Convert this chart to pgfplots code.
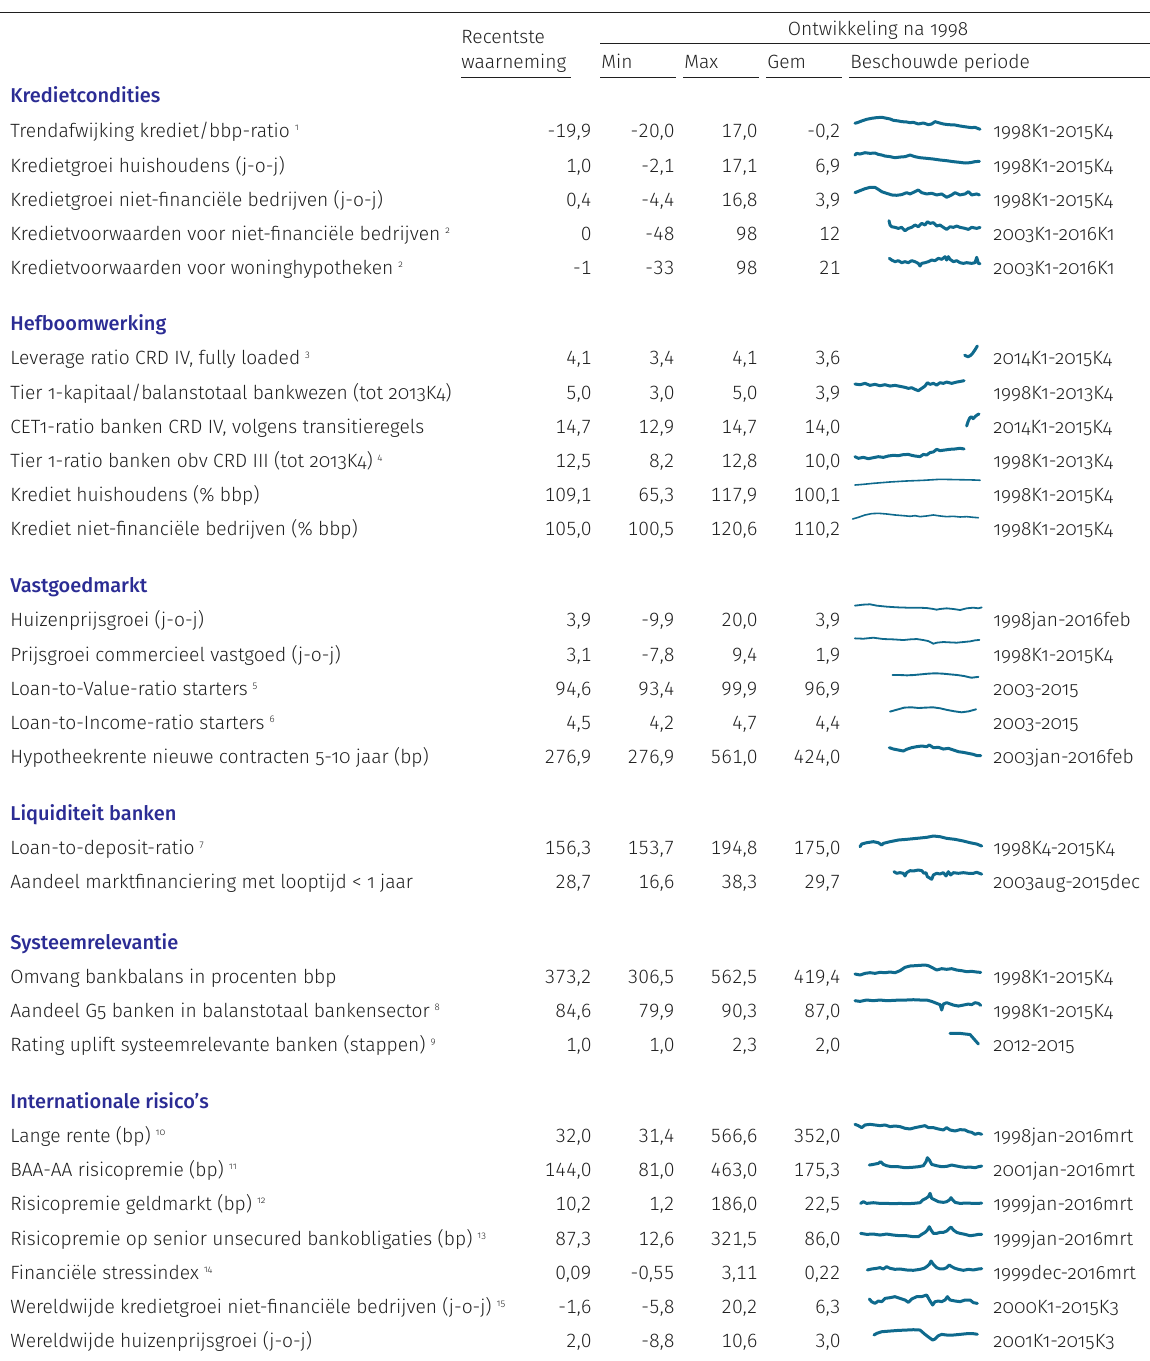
\documentclass[border=0pt]{standalone}
\usepackage{fontspec}
\setmainfont{Fira Sans Light}[Numbers=OldStyle, BoldFont={Fira Sans Medium}]
\newfontfamily\numfont{Fira Sans Light}[Numbers={Lining,Monospaced}]
\usepackage{pgfplots}
\pgfplotsset{compat=1.18}
\definecolor{txt}{HTML}{1F1F1F}
\definecolor{head}{HTML}{2B2C94}
\definecolor{spk}{HTML}{0F6A8D}
\pgfplotsset{spark/.style={hide axis, scale only axis, width=64.5pt, xmin=1998, xmax=2016.25, clip=false, anchor=south west}}
\newcommand{\spark}[6]{%
\coordinate (sp) at (853,#1);
\begin{axis}[spark, at={(sp)}, height=#2, ymin=#3, ymax=#4]
\addplot[spk, line width=#5, line join=round, line cap=round, mark=none] coordinates {#6};
\end{axis}}
\newcommand{\fn}[1]{\hspace{2.5pt}\raisebox{3.4pt}{\fontsize{4.8}{5}\selectfont #1}}
\newcommand{\row}[7]{%
\node[anchor=base west] at (10,#1) {#2};
\node[anchor=base east] at (592,#1) {\numfont #3};
\node[anchor=base east] at (675,#1) {\numfont #4};
\node[anchor=base east] at (758,#1) {\numfont #5};
\node[anchor=base east] at (841,#1) {\numfont #6};
\node[anchor=base west] at (993,#1) {#7};}
\newcommand{\sect}[2]{\node[anchor=base west, text=head, font=\fontsize{10}{12}\selectfont\bfseries] at (10,#1) {#2};}
\begin{document}
\begin{tikzpicture}[x=0.5pt,y=-0.5pt, every node/.style={inner sep=0pt, text=txt, font=\fontsize{9.6}{11.5}\selectfont}]
\useasboundingbox (0,0) rectangle (1150,1361);
% header
\draw[txt, line width=0.5pt] (0,12) -- (1150,12);
\draw[txt, line width=0.5pt] (600,43) -- (1150,43);
\node[anchor=base] at (878,35) {Ontwikkeling na 1998};
\node[anchor=base west] at (461,43) {Recentste};
\node[anchor=base west] at (461,68) {waarneming};
\node[anchor=base west] at (601,68) {Min};
\node[anchor=base west] at (684,68) {Max};
\node[anchor=base west] at (767,68) {Gem};
\node[anchor=base west] at (850,68) {Beschouwde periode};
\foreach \a/\b in {461/571,600/676,683/759,766/842,849/1150}{\draw[txt, line width=0.5pt] (\a,77) -- (\b,77);}
% sections
\sect{102}{Kredietcondities}
\row{137}{Trendafwijking krediet/bbp-ratio\fn{1}}{-19,9}{-20,0}{17,0}{-0,2}{1998K1-2015K4}
\row{172}{Kredietgroei huishoudens (j-o-j)}{1,0}{-2,1}{17,1}{6,9}{1998K1-2015K4}
\row{206}{Kredietgroei niet-financiële bedrijven (j-o-j)}{0,4}{-4,4}{16,8}{3,9}{1998K1-2015K4}
\row{240}{Kredietvoorwaarden voor niet-financiële bedrijven\fn{2}}{0}{-48}{98}{12}{2003K1-2016K1}
\row{274}{Kredietvoorwaarden voor woninghypotheken\fn{2}}{-1}{-33}{98}{21}{2003K1-2016K1}
\sect{330}{Hefboomwerking}
\row{364}{Leverage ratio CRD IV, fully loaded\fn{3}}{4,1}{3,4}{4,1}{3,6}{2014K1-2015K4}
\row{399}{Tier 1-kapitaal/balanstotaal bankwezen (tot 2013K4)}{5,0}{3,0}{5,0}{3,9}{1998K1-2013K4}
\row{433}{CET1-ratio banken CRD IV, volgens transitieregels}{14,7}{12,9}{14,7}{14,0}{2014K1-2015K4}
\row{467}{Tier 1-ratio banken obv CRD III (tot 2013K4)\fn{4}}{12,5}{8,2}{12,8}{10,0}{1998K1-2013K4}
\row{501}{Krediet huishoudens (\% bbp)}{109,1}{65,3}{117,9}{100,1}{1998K1-2015K4}
\row{535}{Krediet niet-financiële bedrijven (\% bbp)}{105,0}{100,5}{120,6}{110,2}{1998K1-2015K4}
\sect{592}{Vastgoedmarkt}
\row{626}{Huizenprijsgroei (j-o-j)}{3,9}{-9,9}{20,0}{3,9}{1998jan-2016feb}
\row{661}{Prijsgroei commercieel vastgoed (j-o-j)}{3,1}{-7,8}{9,4}{1,9}{1998K1-2015K4}
\row{695}{Loan-to-Value-ratio starters\fn{5}}{94,6}{93,4}{99,9}{96,9}{2003-2015}
\row{729}{Loan-to-Income-ratio starters\fn{6}}{4,5}{4,2}{4,7}{4,4}{2003-2015}
\row{763}{Hypotheekrente nieuwe contracten 5-10 jaar (bp)}{276,9}{276,9}{561,0}{424,0}{2003jan-2016feb}
\sect{820}{Liquiditeit banken}
\row{854}{Loan-to-deposit-ratio\fn{7}}{156,3}{153,7}{194,8}{175,0}{1998K4-2015K4}
\row{888}{Aandeel marktfinanciering met looptijd < 1 jaar}{28,7}{16,6}{38,3}{29,7}{2003aug-2015dec}
\sect{949}{Systeemrelevantie}
\row{983}{Omvang bankbalans in procenten bbp}{373,2}{306,5}{562,5}{419,4}{1998K1-2015K4}
\row{1017}{Aandeel G5 banken in balanstotaal bankensector\fn{8}}{84,6}{79,9}{90,3}{87,0}{1998K1-2015K4}
\row{1051}{Rating uplift systeemrelevante banken (stappen)\fn{9}}{1,0}{1,0}{2,3}{2,0}{2012-2015}
\sect{1108}{Internationale risico's}
\row{1142}{Lange rente (bp)\fn{10}}{32,0}{31,4}{566,6}{352,0}{1998jan-2016mrt}
\row{1176}{BAA-AA risicopremie (bp)\fn{11}}{144,0}{81,0}{463,0}{175,3}{2001jan-2016mrt}
\row{1210}{Risicopremie geldmarkt (bp)\fn{12}}{10,2}{1,2}{186,0}{22,5}{1999jan-2016mrt}
\row{1245}{Risicopremie op senior unsecured bankobligaties (bp)\fn{13}}{87,3}{12,6}{321,5}{86,0}{1999jan-2016mrt}
\row{1279}{Financiële stressindex\fn{14}}{0,09}{-0,55}{3,11}{0,22}{1999dec-2016mrt}
\row{1313}{Wereldwijde kredietgroei niet-financiële bedrijven (j-o-j)\fn{15}}{-1,6}{-5,8}{20,2}{6,3}{2000K1-2015K3}
\row{1347}{Wereldwijde huizenprijsgroei (j-o-j)}{2,0}{-8,8}{10,6}{3,0}{2001K1-2015K3}
% sparklines
\spark{129.3}{6pt}{-20}{17}{1.5pt}{(1998.28,-1.5) (1998.75,1.6) (1999.23,5.7) (1999.93,10.8) (2000.64,13.9) (2001.35,16.0) (2002.06,17.0) (2002.76,13.9) (2003.24,11.9) (2003.71,7.7) (2004.41,5.7) (2004.89,3.6) (2005.59,2.6) (2006.07,0.5) (2006.54,1.6) (2007.24,-3.6) (2007.95,-0.5) (2008.66,-5.7) (2009.13,-3.6) (2009.60,3.6) (2010.08,0.5) (2010.78,-3.6) (2011.49,-5.7) (2012.43,-6.7) (2013.14,-9.8) (2014.08,-12.9) (2014.79,-14.9) (2015.26,-13.9) (2015.50,-16.0) (2015.97,-19.9)}
\spark{163}{5.15pt}{-2.1}{17.1}{1.5pt}{(1998.28,12.8) (1998.52,15.9) (1998.99,14.6) (1999.70,17.1) (2000.41,15.9) (2001.11,16.5) (2001.58,14.0) (2002.06,12.8) (2002.53,10.9) (2003.24,9.7) (2003.94,7.8) (2004.65,9.0) (2005.36,9.7) (2006.07,12.8) (2006.77,9.7) (2007.48,7.8) (2008.42,6.6) (2009.37,5.3) (2010.31,3.5) (2011.25,2.2) (2012.20,0.4) (2013.14,-0.9) (2013.85,-2.1) (2014.56,-1.5) (2015.26,0.4) (2015.88,1.0)}
\spark{197.3}{5.3pt}{-4.4}{16.8}{1.5pt}{(1998.28,4.9) (1998.99,8.9) (1999.70,12.8) (2000.41,15.5) (2001.11,15.5) (2001.58,11.5) (2002.06,6.9) (2002.76,3.6) (2003.47,0.3) (2004.18,-0.4) (2004.89,1.0) (2005.59,4.9) (2006.07,2.3) (2006.77,6.9) (2007.24,10.2) (2007.72,4.9) (2008.42,2.3) (2009.13,3.6) (2009.84,0.3) (2010.55,2.3) (2011.25,-4.4) (2011.96,0.3) (2012.43,4.9) (2013.14,0.3) (2013.85,2.3) (2014.32,6.9) (2014.79,0.3) (2015.50,2.3) (2015.88,0.4)}
\spark{230.7}{5pt}{-48}{98}{1.5pt}{(2003.09,98) (2003.24,35) (2003.47,10) (2003.94,1) (2004.41,-14) (2004.89,1) (2005.36,-48) (2005.83,-14) (2006.30,1) (2006.77,35) (2007.24,10) (2007.72,59) (2008.19,35) (2008.52,83) (2008.90,59) (2009.37,69) (2009.84,20) (2010.31,35) (2010.78,1) (2011.25,-29) (2011.73,10) (2012.20,1) (2012.67,20) (2013.14,1) (2013.85,-14) (2014.32,-29) (2014.79,1) (2015.50,-14) (2015.97,0)}
\spark{266}{4.65pt}{-33}{98}{1.5pt}{(2003.14,75) (2003.47,51) (2003.94,28) (2004.41,42) (2004.89,14) (2005.36,28) (2005.83,14) (2006.30,42) (2006.77,28) (2007.24,4) (2007.48,-33) (2007.72,4) (2008.19,14) (2008.66,28) (2009.13,51) (2009.60,42) (2010.08,75) (2010.55,61) (2011.02,98) (2011.25,51) (2011.49,98) (2011.73,61) (2012.20,28) (2012.67,42) (2013.14,14) (2013.61,4) (2014.08,14) (2014.79,4) (2015.26,14) (2015.50,89) (2015.74,4) (2015.97,-1)}
\spark{356.7}{5.35pt}{3.4}{4.1}{1.5pt}{(2013.80,3.5) (2014.04,3.44) (2014.27,3.4) (2014.60,3.47) (2014.93,3.63) (2015.26,3.85) (2015.59,4.1)}
\spark{390.7}{5pt}{3.0}{5.0}{1.5pt}{(1998.28,4.33) (1998.99,4.2) (1999.70,4.47) (2000.41,4.07) (2001.11,4.27) (2001.82,4.0) (2002.53,4.2) (2003.24,3.93) (2003.94,4.07) (2004.65,3.87) (2005.36,3.67) (2005.83,3.47) (2006.30,3.6) (2006.77,3.27) (2007.24,3.0) (2007.72,3.47) (2008.19,3.93) (2008.52,4.6) (2008.90,4.27) (2009.37,4.47) (2009.84,4.13) (2010.31,4.6) (2010.78,4.47) (2011.25,4.73) (2011.96,4.47) (2012.67,4.73) (2013.24,4.87) (2013.71,5.0)}
\spark{426}{6pt}{12.9}{14.7}{1.5pt}{(2014.08,12.9) (2014.27,13.55) (2014.51,14.1) (2014.74,14.3) (2014.98,14.0) (2015.26,14.3) (2015.55,14.55) (2015.83,14.7)}
\spark{458.7}{5.2pt}{8.2}{12.8}{1.5pt}{(1998.28,9.1) (1998.75,8.36) (1999.46,8.8) (2000.17,8.2) (2000.88,8.66) (2001.58,9.1) (2002.29,8.8) (2003.00,9.4) (2003.71,9.7) (2004.41,9.54) (2005.12,10.0) (2005.83,10.1) (2006.30,9.7) (2006.77,9.4) (2007.48,9.1) (2007.95,10.1) (2008.42,9.84) (2008.90,10.9) (2009.37,11.2) (2009.84,12.36) (2010.31,11.76) (2011.02,12.06) (2011.73,12.36) (2012.43,12.5) (2013.14,12.8) (2013.71,12.5)}
\spark{485}{2.85pt}{65.3}{117.9}{0.8pt}{(1998.28,65.3) (1999.46,71.5) (2000.88,80.8) (2002.06,87.0) (2003.24,93.2) (2004.41,97.8) (2005.59,102.4) (2006.77,105.5) (2007.95,108.6) (2009.13,113.3) (2010.31,117.9) (2011.49,116.4) (2012.67,114.8) (2013.85,113.3) (2015.03,111.7) (2015.97,109.1)}
\spark{519}{2.85pt}{100.5}{120.6}{0.8pt}{(1997.95,100.5) (1998.75,106.4) (1999.70,114.7) (2000.64,119.4) (2001.58,120.6) (2002.76,118.2) (2003.94,114.7) (2005.12,112.3) (2006.07,110.0) (2006.77,112.3) (2007.48,108.8) (2008.42,111.2) (2009.37,114.7) (2010.31,111.2) (2011.25,108.8) (2012.20,110.0) (2013.14,107.6) (2014.08,108.8) (2015.03,106.4) (2015.74,105.0)}
\spark{610}{2.85pt}{-9.9}{20}{0.9pt}{(1998.28,13.0) (1999.46,18.2) (2000.41,20.0) (2001.35,13.0) (2002.76,7.7) (2004.18,4.2) (2005.59,2.4) (2007.01,2.4) (2008.42,0.6) (2009.37,-4.6) (2009.84,-8.2) (2010.31,-4.6) (2011.25,-1.1) (2012.20,-4.6) (2013.14,-9.9) (2014.08,-1.1) (2015.03,2.4) (2015.74,-1.1) (2016.21,3.9)}
\spark{643.7}{3pt}{-7.8}{9.4}{0.9pt}{(1998.28,7.5) (1999.46,6.5) (2000.88,9.4) (2002.29,5.6) (2003.71,4.6) (2005.12,2.7) (2006.07,4.6) (2007.01,5.6) (2007.95,2.7) (2008.66,-0.2) (2009.37,-7.8) (2009.84,-4.9) (2010.78,-3.0) (2011.73,-4.0) (2012.67,-4.9) (2013.61,-3.0) (2014.56,-1.1) (2015.26,1.8) (2015.88,3.1)}
\spark{677.7}{2.2pt}{93.4}{99.9}{0.95pt}{(2003.61,97.4) (2004.60,97.4) (2005.64,96.9) (2006.63,97.4) (2007.67,98.4) (2008.66,99.4) (2009.65,99.9) (2010.69,99.4) (2011.68,98.4) (2012.72,97.4) (2013.71,95.9) (2014.74,93.4) (2015.74,94.6)}
\spark{712.3}{2.5pt}{4.2}{4.7}{0.95pt}{(2003.24,4.27) (2004.25,4.47) (2005.26,4.67) (2006.28,4.7) (2007.29,4.63) (2008.31,4.67) (2009.32,4.7) (2010.33,4.6) (2011.35,4.43) (2012.36,4.3) (2013.38,4.2) (2014.39,4.3) (2015.41,4.5)}
\spark{755.7}{5.35pt}{276.9}{561}{1.5pt}{(2003.14,490) (2003.71,454) (2004.41,428) (2005.12,401) (2005.59,446) (2006.30,490) (2007.01,517) (2007.72,534) (2008.42,517) (2008.80,561) (2009.37,490) (2010.08,499) (2010.78,454) (2011.49,472) (2012.20,428) (2012.91,383) (2013.61,366) (2014.32,339) (2015.03,312) (2015.59,277) (2016.07,276.9)}
\spark{846.7}{5.35pt}{153.7}{194.8}{1.5pt}{(1998.99,153.7) (1999.23,164.0) (1999.93,169.1) (2000.88,173.0) (2001.58,169.1) (2002.06,160.1) (2002.29,166.6) (2003.24,173.0) (2004.41,179.4) (2005.59,182.0) (2007.01,185.8) (2008.42,189.7) (2009.37,194.8) (2010.31,192.2) (2011.25,185.8) (2012.43,182.0) (2013.61,175.5) (2014.56,169.1) (2015.50,164.0) (2016.21,156.3)}
\spark{879.3}{4.65pt}{16.6}{38.3}{1.5pt}{(2003.80,34.4) (2004.18,30.6) (2004.65,32.1) (2005.12,30.6) (2005.36,24.4) (2005.59,32.1) (2006.07,36.8) (2006.54,36.0) (2007.24,38.3) (2007.72,36.8) (2008.05,30.6) (2008.33,32.1) (2008.52,22.8) (2008.90,19.0) (2009.13,16.6) (2009.37,26.7) (2009.84,30.6) (2010.31,29.0) (2010.78,32.1) (2011.16,24.4) (2011.49,34.4) (2011.82,26.7) (2012.20,32.1) (2012.91,30.6) (2013.61,32.1) (2014.32,30.6) (2015.03,30.6) (2015.50,33.0) (2015.88,30.6) (2016.21,28.7)}
\spark{975}{5pt}{306.5}{562.5}{1.5pt}{(1998.28,332) (1998.99,306.5) (1999.70,349) (2000.41,366) (2001.11,349) (2001.82,375) (2002.53,366) (2003.24,383) (2003.94,366) (2004.65,417) (2005.36,503) (2006.07,537) (2006.77,545) (2007.48,554) (2008.19,562.5) (2008.66,545) (2009.13,503) (2009.84,434) (2010.55,469) (2011.25,452) (2011.96,469) (2012.67,434) (2013.38,417) (2014.08,392) (2014.79,400) (2015.50,383) (2016.07,373.2)}
\spark{1010}{5.15pt}{79.9}{90.3}{1.5pt}{(1998.28,89.3) (1998.99,88.6) (1999.93,90.0) (2000.88,89.3) (2001.82,90.0) (2002.76,89.3) (2003.71,89.6) (2004.65,90.0) (2005.59,90.0) (2006.54,90.3) (2007.48,90.0) (2008.42,90.0) (2009.13,88.6) (2009.84,86.6) (2010.31,85.3) (2010.55,79.9) (2010.78,85.9) (2011.25,87.3) (2012.20,84.9) (2012.91,83.9) (2013.61,84.9) (2014.32,85.9) (2014.79,85.3) (2015.26,87.3) (2015.74,86.6) (2016.07,84.6)}
\spark{1044}{5.35pt}{1.0}{2.3}{1.5pt}{(2011.73,2.3) (2013.05,2.3) (2014.56,2.15) (2015.74,1.0)}
\spark{1134.3}{5pt}{31.4}{566.6}{1.5pt}{(1998.28,566.6) (1998.75,495) (1999.23,388) (1999.70,531) (2000.41,566.6) (2001.11,531) (2001.82,495) (2002.53,531) (2003.24,442) (2003.94,477) (2004.65,442) (2005.36,353) (2006.07,317) (2006.77,388) (2007.48,442) (2008.19,495) (2008.66,388) (2009.37,388) (2010.08,317) (2010.78,263) (2011.25,388) (2011.73,263) (2012.43,210) (2013.14,281) (2013.85,263) (2014.32,174) (2014.79,138) (2015.26,31.4) (2015.74,85) (2016.21,32)}
\spark{1167.7}{5pt}{81}{463}{1.5pt}{(2000.31,183) (2000.88,208) (2001.58,247) (2001.91,310) (2002.29,208) (2002.76,157) (2003.47,119) (2004.41,119) (2005.36,81) (2006.30,94) (2007.24,119) (2007.95,157) (2008.33,310) (2008.52,463) (2008.80,374) (2009.13,208) (2009.84,157) (2010.55,119) (2011.25,132) (2011.96,183) (2012.43,157) (2013.14,119) (2013.85,94) (2014.56,106) (2015.26,81) (2015.74,119) (2016.21,144)}
\spark{1203.7}{5.2pt}{1.2}{186}{1.5pt}{(1999.08,7) (1999.46,37) (1999.93,7) (2000.88,19) (2001.82,7) (2002.76,7) (2003.71,1.2) (2004.65,7) (2005.59,1.2) (2006.54,7) (2007.48,19) (2007.86,67) (2008.33,97) (2008.66,126) (2008.90,186) (2009.13,97) (2009.60,67) (2010.08,37) (2010.78,25) (2011.25,37) (2011.63,67) (2011.87,108) (2012.10,67) (2012.43,25) (2013.14,7) (2014.08,13) (2015.03,7) (2016.21,10.2)}
\spark{1236.7}{5pt}{12.6}{321.5}{1.5pt}{(1999.08,116) (1999.93,85) (2000.88,95) (2001.82,64) (2002.76,95) (2003.71,64) (2004.65,43) (2005.59,43) (2006.54,12.6) (2007.24,12.6) (2007.72,85) (2008.19,146) (2008.52,219) (2008.80,321.5) (2009.04,219) (2009.37,116) (2009.84,116) (2010.31,146) (2010.78,146) (2011.25,188) (2011.63,270) (2011.87,311) (2012.20,219) (2012.67,146) (2013.14,116) (2013.85,85) (2014.56,43) (2015.26,64) (2015.74,85) (2016.21,87.3)}
\spark{1270.3}{4.65pt}{-0.55}{3.11}{1.5pt}{(2000.03,-0.42) (2000.64,-0.03) (2001.35,0.23) (2001.82,0.50) (2002.29,-0.03) (2002.76,0.89) (2003.24,0.23) (2003.94,-0.16) (2004.65,-0.03) (2005.59,-0.42) (2006.54,-0.55) (2007.48,-0.16) (2008.05,0.23) (2008.42,0.89) (2008.80,1.80) (2009.04,3.11) (2009.37,1.80) (2009.84,0.50) (2010.31,-0.03) (2010.78,-0.03) (2011.25,0.50) (2011.63,1.54) (2011.96,0.89) (2012.43,0.23) (2012.91,-0.16) (2013.61,-0.55) (2014.32,-0.16) (2015.03,-0.42) (2015.74,-0.03) (2016.21,0.09)}
\spark{1305}{5pt}{-5.8}{20.2}{1.5pt}{(2000.31,9.8) (2000.64,2.9) (2001.11,-1.5) (2001.58,4.6) (2002.06,2.9) (2002.53,11.5) (2003.24,13.3) (2003.94,15.9) (2004.65,11.5) (2005.36,7.2) (2005.83,1.1) (2006.30,9.8) (2007.01,15.9) (2007.72,15.9) (2008.42,20.2) (2008.90,4.6) (2009.27,-5.8) (2009.60,2.9) (2010.08,4.6) (2010.55,2.9) (2011.02,7.2) (2011.35,15.9) (2011.73,7.2) (2012.43,4.6) (2013.14,2.9) (2013.85,7.2) (2014.56,7.2) (2015.03,0.3) (2015.59,-1.6)}
\spark{1340}{5.15pt}{-8.8}{10.6}{1.5pt}{(2000.97,0.6) (2001.35,3.7) (2002.06,6.8) (2003.24,8.1) (2004.41,9.3) (2005.59,10.0) (2006.54,10.6) (2007.48,10.0) (2008.19,1.8) (2008.80,-4.4) (2009.27,-8.8) (2009.60,-6.9) (2010.08,-0.7) (2010.55,1.8) (2011.25,0.6) (2012.20,0.6) (2013.14,1.8) (2014.08,3.1) (2015.03,3.1) (2015.59,2.0)}
\end{tikzpicture}
\end{document}
